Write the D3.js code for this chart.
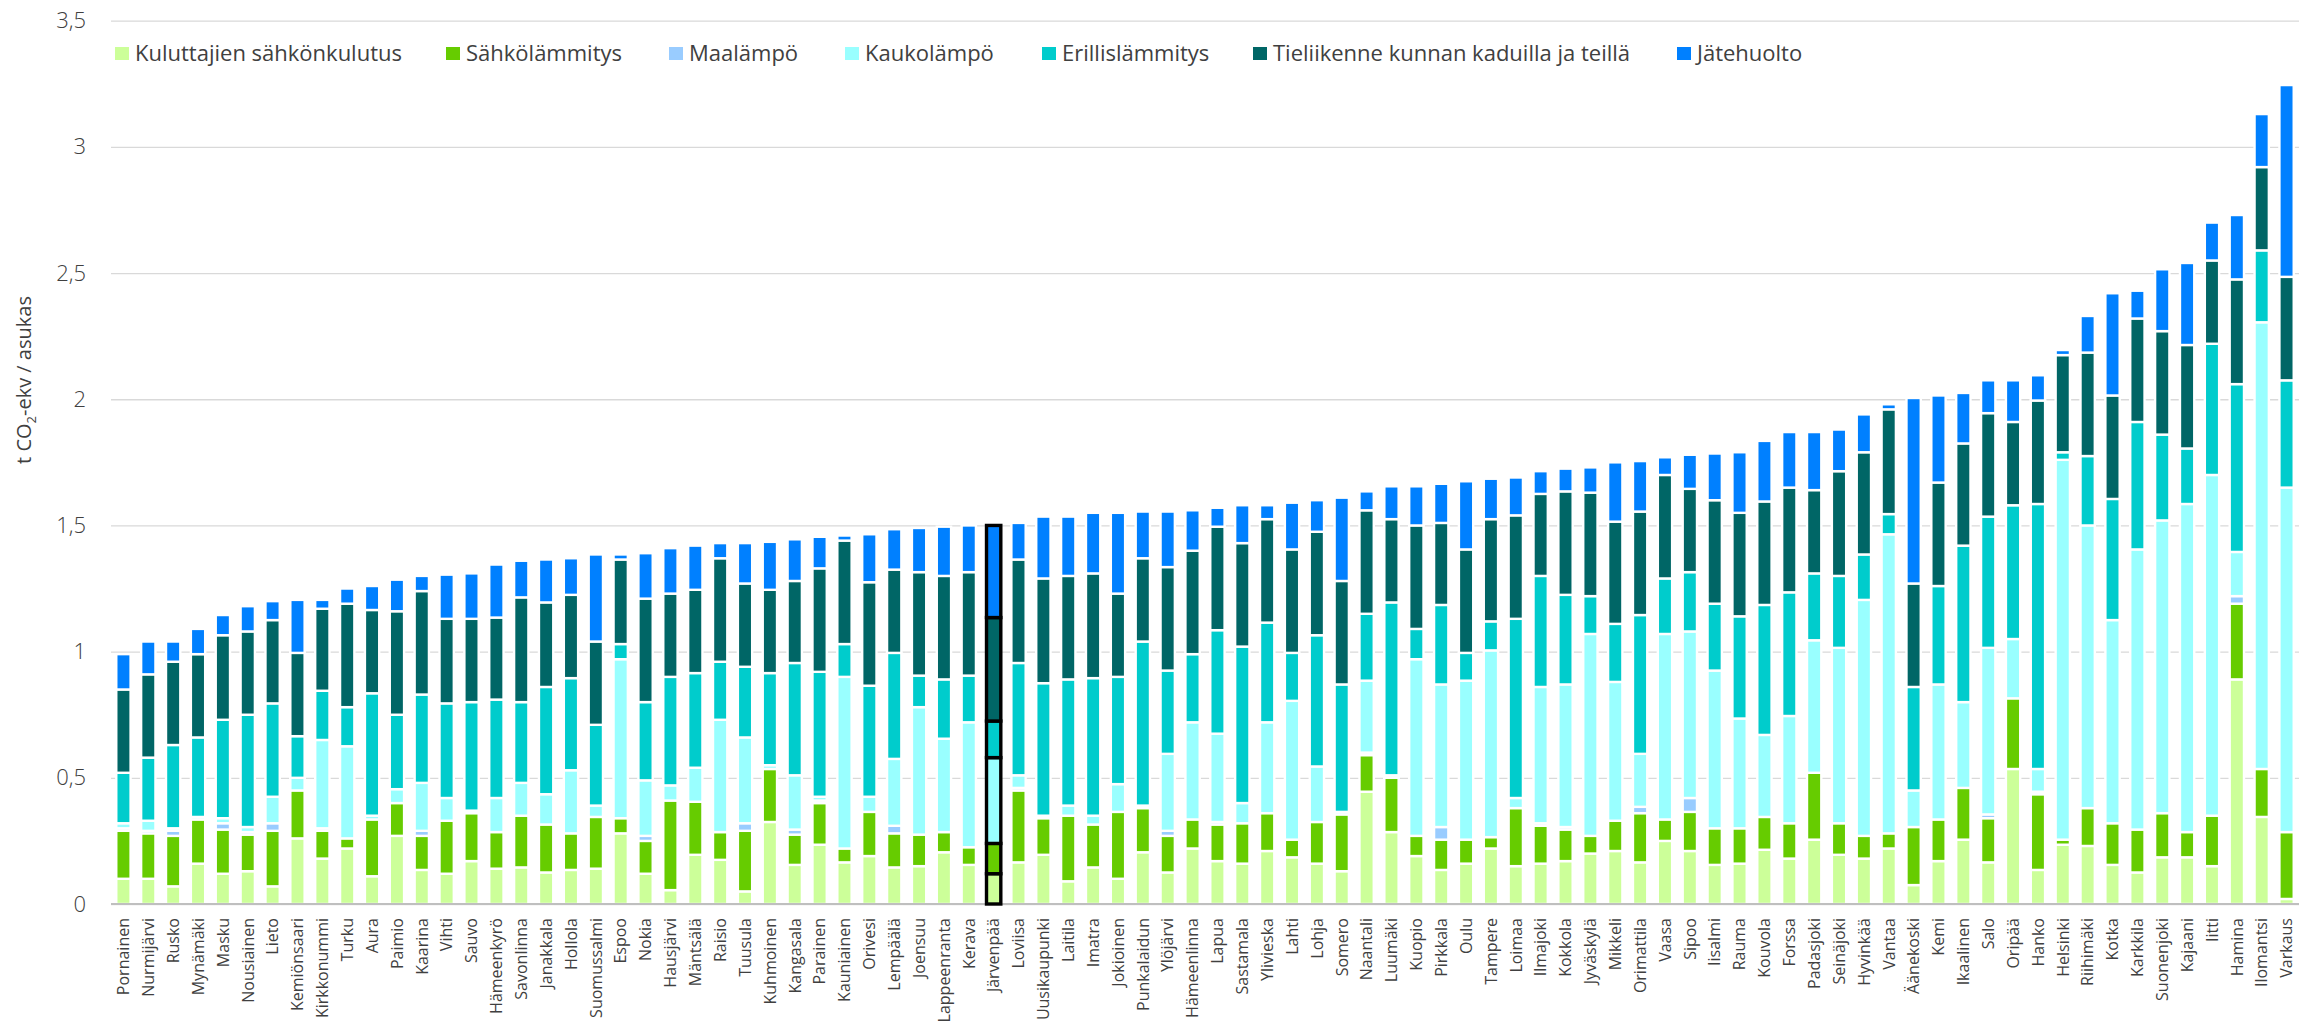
<!DOCTYPE html>
<html>
<head>
<meta charset="utf-8">
<script src="https://cdn.jsdelivr.net/npm/d3@7"></script>
<style>
  html, body { margin: 0; padding: 0; background: #ffffff; }
  svg { display: block; }
</style>
</head>
<body>
<svg id="chart" width="2303" height="1030"></svg>
<script>
// ---------------- DATA ----------------
const categories = ["Pornainen","Nurmijärvi","Rusko","Mynämäki","Masku","Nousiainen","Lieto","Kemiönsaari","Kirkkonummi","Turku",
"Aura","Paimio","Kaarina","Vihti","Sauvo","Hämeenkyrö","Savonlinna","Janakkala","Hollola","Suomussalmi",
"Espoo","Nokia","Hausjärvi","Mäntsälä","Raisio","Tuusula","Kuhmoinen","Kangasala","Parainen","Kauniainen",
"Orivesi","Lempäälä","Joensuu","Lappeenranta","Kerava","Järvenpää","Loviisa","Uusikaupunki","Laitila","Imatra",
"Jokioinen","Punkalaidun","Ylöjärvi","Hämeenlinna","Lapua","Sastamala","Ylivieska","Lahti","Lohja","Somero",
"Naantali","Luumäki","Kuopio","Pirkkala","Oulu","Tampere","Loimaa","Ilmajoki","Kokkola","Jyväskylä",
"Mikkeli","Orimattila","Vaasa","Sipoo","Iisalmi","Rauma","Kouvola","Forssa","Padasjoki","Seinäjoki",
"Hyvinkää","Vantaa","Äänekoski","Kemi","Ikaalinen","Salo","Oripää","Hanko","Helsinki","Riihimäki",
"Kotka","Karkkila","Suonenjoki","Kajaani","Iitti","Hamina","Ilomantsi","Varkaus"];

const seriesNames = ["Kuluttajien sähkönkulutus","Sähkölämmitys","Maalämpö","Kaukolämpö","Erillislämmitys","Tieliikenne kunnan kaduilla ja teillä","Jätehuolto"];

const kuluttajienSahkonkulutus = [.10,.10,.07,.16,.12,.13,.07,.26,.18,.22,
.11,.27,.135,.12,.17,.14,.145,.125,.135,.14,
.28,.12,.055,.195,.175,.05,.325,.155,.235,.165,
.19,.145,.15,.205,.155,.12,.165,.195,.09,.145,
.10,.205,.125,.22,.17,.16,.21,.185,.16,.13,
.445,.285,.19,.135,.16,.22,.15,.16,.17,.20,
.21,.165,.25,.21,.155,.16,.215,.18,.255,.195,
.18,.22,.075,.17,.255,.165,.535,.135,.235,.23,
.155,.125,.185,.185,.15,.89,.345,.02];

const sahkolammitys = [.19,.18,.20,.175,.175,.145,.22,.19,.11,.04,
.225,.13,.135,.21,.19,.145,.205,.19,.145,.205,
.06,.13,.355,.21,.11,.24,.21,.12,.165,.055,
.175,.135,.125,.08,.07,.12,.285,.145,.26,.17,
.265,.175,.145,.115,.145,.16,.15,.07,.165,.225,
.145,.215,.08,.12,.095,.045,.23,.15,.125,.07,
.12,.195,.085,.155,.145,.14,.13,.14,.265,.125,
.09,.06,.23,.165,.205,.175,.28,.30,.02,.15,
.165,.17,.175,.10,.20,.30,.19,.265];

const maalampo = [.01,.01,.02,0,.025,.01,.03,0,.01,0,
0,0,.02,0,0,0,0,0,0,0,
0,.02,0,0,0,.03,0,.02,.01,0,
0,.03,0,0,0,0,.01,0,0,0,
0,0,.02,0,.01,0,0,0,0,0,
.01,0,0,.05,0,0,0,.01,.01,0,
0,.025,0,.055,0,0,0,0,0,0,
0,0,0,0,0,.015,0,.01,0,0,
0,0,0,0,0,.03,0,0];

const kaukolampo = [.02,.04,.01,.01,.02,.02,.105,.05,.35,.365,
.015,.055,.19,.09,.01,.135,.13,.12,.25,.045,
.63,.22,.06,.135,.445,.34,.015,.215,.015,.68,
.06,.265,.505,.37,.495,.34,.05,.01,.04,.035,
.11,.01,.305,.385,.35,.08,.36,.55,.22,.01,
.285,.01,.70,.565,.63,.74,.04,.54,.565,.80,
.55,.21,.735,.66,.625,.435,.325,.425,.525,.695,
.935,1.185,.145,.535,.34,.66,.235,.09,1.505,1.12,
.805,1.11,1.16,1.30,1.35,.175,1.77,1.365];

const erillislammitys = [.20,.25,.33,.315,.39,.445,.37,.165,.195,.155,
.485,.295,.35,.375,.43,.39,.32,.425,.365,.32,
.06,.31,.43,.375,.23,.28,.365,.445,.495,.13,
.44,.42,.125,.235,.185,.145,.445,.525,.50,.545,
.425,.65,.33,.27,.41,.62,.395,.19,.52,.505,
.265,.685,.12,.315,.11,.115,.71,.44,.355,.15,
.23,.55,.22,.235,.265,.405,.515,.49,.265,.285,
.18,.08,.41,.39,.62,.52,.53,1.05,.03,.275,
.48,.505,.34,.22,.52,.665,.285,.425];

const tieliikenne = [.33,.33,.33,.33,.335,.33,.33,.33,.325,.41,
.33,.41,.41,.335,.33,.325,.415,.335,.33,.33,
.335,.41,.33,.33,.41,.33,.33,.325,.41,.41,
.41,.33,.41,.41,.41,.41,.41,.415,.41,.415,
.33,.33,.41,.41,.41,.41,.41,.41,.41,.41,
.41,.33,.41,.325,.41,.405,.41,.325,.41,.41,
.405,.41,.41,.33,.41,.41,.41,.415,.33,.415,
.405,.415,.41,.41,.405,.41,.33,.41,.385,.41,
.41,.41,.41,.41,.33,.415,.33,.41];

const jatehuolto = [.14,.13,.08,.10,.08,.10,.075,.21,.035,.06,
.095,.125,.06,.175,.18,.21,.145,.17,.145,.345,
.02,.18,.18,.175,.06,.16,.19,.165,.125,.02,
.19,.16,.175,.195,.185,.365,.145,.245,.235,.24,
.32,.185,.22,.16,.075,.15,.055,.185,.125,.33,
.075,.13,.155,.155,.27,.16,.15,.09,.09,.10,
.235,.20,.07,.135,.185,.24,.24,.22,.23,.165,
.15,.02,.735,.345,.20,.13,.165,.10,.02,.145,
.405,.11,.245,.325,.15,.255,.21,.76];

const yTickValues = [0, 0.5, 1, 1.5, 2, 2.5, 3, 3.5];
const yTickLabels = ["0", "0,5", "1", "1,5", "2", "2,5", "3", "3,5"];
const highlighted = "Järvenpää";

// ---------------- STYLE / LAYOUT ----------------
const seriesColors = ["#ccff99", "#66cc00", "#99ccff", "#99ffff", "#00cccc", "#006666", "#0080ff"];
const W = 2303, H = 1030;
const plot = { left: 111, right: 2299, top: 20.7, bottom: 904 };
const textColor = "#404040";
const fontMain = "'Open Sans', 'DejaVu Sans', sans-serif";

const seriesData = [kuluttajienSahkonkulutus, sahkolammitys, maalampo, kaukolampo, erillislammitys, tieliikenne, jatehuolto];
const keys = seriesNames;
const table = categories.map((c, i) => {
  const row = { name: c };
  keys.forEach((k, j) => { row[k] = seriesData[j][i]; });
  return row;
});

const svg = d3.select("#chart");
svg.append("rect").attr("width", W).attr("height", H).attr("fill", "#fff");

const x = d3.scaleBand().domain(categories).range([plot.left, plot.right])
  .paddingInner(0.425).paddingOuter(0.2125);
const y = d3.scaleLinear().domain([0, 3.5]).range([plot.bottom, plot.top]);

// gridlines + y labels
const yAxis = d3.axisLeft(y).tickValues(yTickValues)
  .tickSize(-(plot.right - plot.left)).tickPadding(25)
  .tickFormat((d, i) => yTickLabels[i]);
const gy = svg.append("g").attr("transform", `translate(${plot.left},0)`).call(yAxis);
gy.select(".domain").remove();
gy.selectAll(".tick line").attr("stroke", "#d9d9d9").attr("stroke-width", 1.3);
gy.selectAll(".tick text").attr("fill", textColor).attr("font-family", fontMain)
  .attr("font-size", 22).attr("font-weight", 300);

// bars
const stack = d3.stack().keys(keys);
const stacked = stack(table);
const gBars = svg.append("g");
stacked.forEach((layer, li) => {
  gBars.append("g").selectAll("rect")
    .data(layer.filter(d => d.data.name !== highlighted))
    .join("rect")
    .attr("x", d => x(d.data.name))
    .attr("width", x.bandwidth())
    .attr("y", d => y(d[1]))
    .attr("height", d => Math.max(0, y(d[0]) - y(d[1])))
    .attr("fill", seriesColors[li])
    .attr("stroke", "#ffffff")
    .attr("stroke-width", 2.4);
});

// axis baseline
svg.append("line").attr("x1", plot.left).attr("x2", plot.right)
  .attr("y1", y(0)).attr("y2", y(0)).attr("stroke", "#bfbfbf").attr("stroke-width", 2);

// highlighted bar
const gHi = svg.append("g");
stacked.forEach((layer, li) => {
  gHi.selectAll(null)
    .data(layer.filter(d => d.data.name === highlighted && d[1] - d[0] > 0))
    .join("rect")
    .attr("x", d => x(d.data.name))
    .attr("width", x.bandwidth())
    .attr("y", d => y(d[1]))
    .attr("height", d => y(d[0]) - y(d[1]))
    .attr("fill", seriesColors[li])
    .attr("stroke", "#000000")
    .attr("stroke-width", 3.4);
});

// x labels
const xAxis = d3.axisBottom(x).tickSize(0).tickPadding(0);
const gx = svg.append("g").attr("transform", `translate(0,${y(0)})`).call(xAxis);
gx.select(".domain").remove();
gx.selectAll(".tick text")
  .attr("transform", "rotate(-90)")
  .attr("text-anchor", "end")
  .attr("x", -14).attr("y", 0).attr("dy", "0.36em")
  .attr("fill", textColor).attr("font-family", fontMain)
  .attr("font-size", 16).attr("font-weight", 400);

// y title
const yt = svg.append("text")
  .attr("transform", "translate(24,380) rotate(-90)")
  .attr("text-anchor", "middle").attr("dy", "0.35em")
  .attr("fill", textColor).attr("font-family", fontMain)
  .attr("font-size", 20).attr("font-weight", 400);
yt.append("tspan").text("t CO");
yt.append("tspan").text("2").attr("font-size", 13).attr("dy", 5);
yt.append("tspan").text("-ekv / asukas").attr("dy", -5);

// legend
const legendX = [115, 446, 669, 845, 1042, 1253, 1677];
const gLeg = svg.append("g");
seriesNames.forEach((n, i) => {
  const g = gLeg.append("g").attr("transform", `translate(${legendX[i]},53.5)`);
  g.append("rect").attr("x", 0).attr("y", -6.5).attr("width", 14).attr("height", 13)
    .attr("fill", seriesColors[i]);
  g.append("text").attr("x", 20).attr("y", 0).attr("dy", "0.36em")
    .attr("fill", textColor).attr("font-family", fontMain)
    .attr("font-size", 22).attr("font-weight", 400).text(n);
});
</script>
</body>
</html>
